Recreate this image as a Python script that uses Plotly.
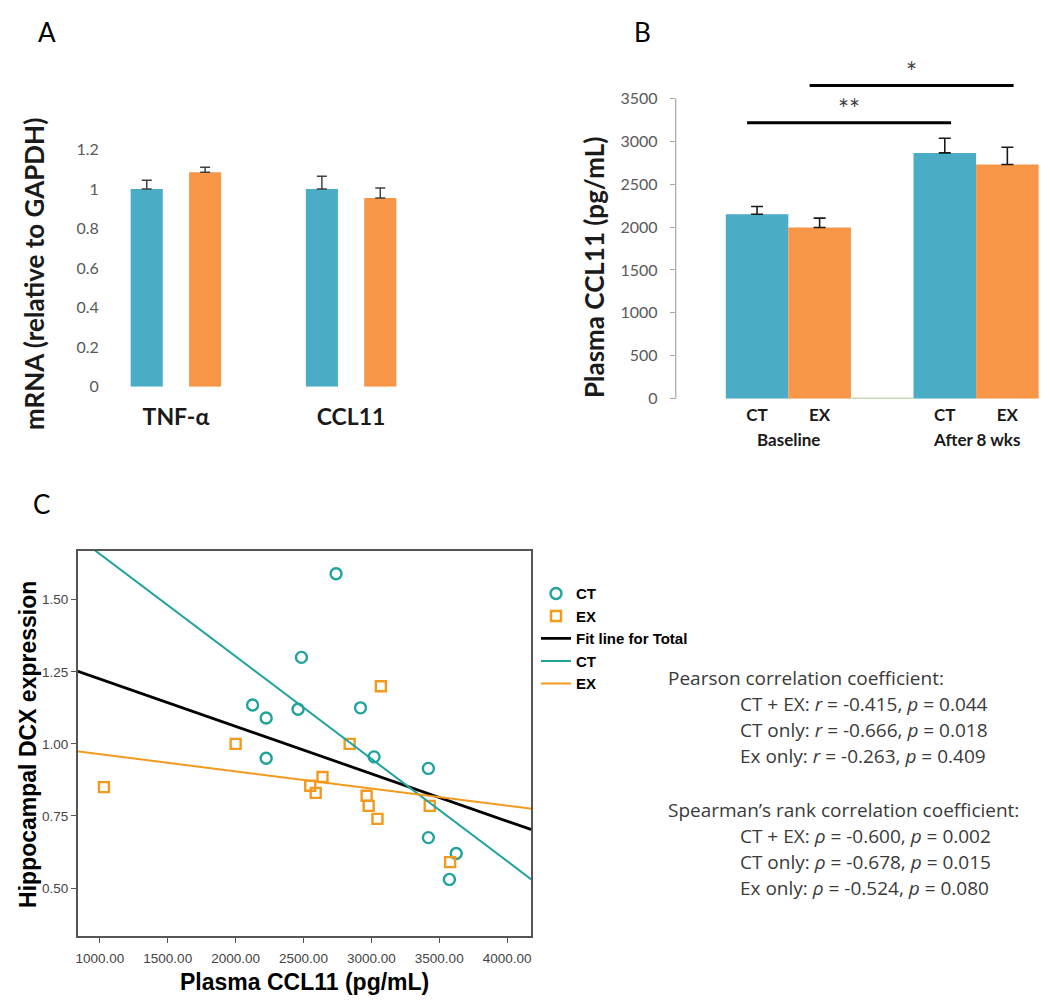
import numpy as np
import plotly.graph_objects as go

# ---------------- Panel A data ----------------
A_GENES = ["TNF-α", "CCL11"]
A_CT = [1.00, 1.00]
A_CT_ERR = [0.045, 0.065]
A_EX = [1.085, 0.955]
A_EX_ERR = [0.025, 0.05]
A_YTICKS = [0, 0.2, 0.4, 0.6, 0.8, 1, 1.2]

# ---------------- Panel B data ----------------
B_TIMES = ["Baseline", "After 8 wks"]
B_GROUPS = ["CT", "EX"]
B_CT = [2150, 2865]
B_CT_ERR = [90, 170]
B_EX = [1995, 2730]
B_EX_ERR = [110, 200]
B_YTICKS = [0, 500, 1000, 1500, 2000, 2500, 3000, 3500]
# (label, group compared Baseline vs After, bracket level)
B_SIG = [("**", "CT", 3215), ("*", "EX", 3650)]

# ---------------- Panel C data ----------------
CT_X = [2740, 2485, 2125, 2225, 2460, 2225, 2920, 3020, 3420, 3420, 3625, 3575]
CT_Y = [1.59, 1.30, 1.135, 1.09, 1.12, 0.95, 1.125, 0.955, 0.915, 0.675, 0.62, 0.53]
EX_X = [1030, 2000, 3070, 2840, 2640, 2550, 2590, 2965, 2980, 3045, 3430, 3580]
EX_Y = [0.85, 1.00, 1.20, 1.00, 0.885, 0.855, 0.83, 0.82, 0.785, 0.74, 0.785, 0.59]
C_XTICKS = [1000, 1500, 2000, 2500, 3000, 3500, 4000]
C_YTICKS = [0.50, 0.75, 1.00, 1.25, 1.50]

PEARSON = [("CT + EX", -0.415, 0.044), ("CT only", -0.666, 0.018), ("Ex only", -0.263, 0.409)]
SPEARMAN = [("CT + EX", -0.600, 0.002), ("CT only", -0.678, 0.015), ("Ex only", -0.524, 0.080)]

# ---------------- styles ----------------
BLUE = "#4bacc6"
ORANGE = "#f79646"
TEAL = "#1fa39c"
C_ORANGE = "#f39a1e"
W, H = 1050, 1001
CAL = "Lato"
ARIAL = "Liberation Sans, Arial"
TXT = "Open Sans"


def px(x):
    return x / W


def py(y):
    return 1 - y / H


fig = go.Figure()

# ---- Panel A bars ----
a_ct_pos = [3 * i for i in range(len(A_GENES))]
a_ex_pos = [3 * i + 1 for i in range(len(A_GENES))]
fig.add_trace(go.Bar(x=a_ct_pos, y=A_CT, width=0.55, marker_color=BLUE, marker_line_width=0,
                     error_y=dict(type="data", array=A_CT_ERR, arrayminus=[0] * len(A_CT),
                                  color="#404040", thickness=1.5, width=5),
                     showlegend=False, xaxis="x", yaxis="y"))
fig.add_trace(go.Bar(x=a_ex_pos, y=A_EX, width=0.55, marker_color=ORANGE, marker_line_width=0,
                     error_y=dict(type="data", array=A_EX_ERR, arrayminus=[0] * len(A_EX),
                                  color="#404040", thickness=1.5, width=5),
                     showlegend=False, xaxis="x", yaxis="y"))

# ---- Panel B bars ----
b_ct_pos = [3 * i for i in range(len(B_TIMES))]
b_ex_pos = [3 * i + 1 for i in range(len(B_TIMES))]
fig.add_trace(go.Bar(x=b_ct_pos, y=B_CT, width=1, marker_color=BLUE, marker_line_width=0,
                     error_y=dict(type="data", array=B_CT_ERR, arrayminus=[0] * len(B_CT),
                                  color="#1a1a1a", thickness=1.6, width=6),
                     showlegend=False, xaxis="x2", yaxis="y2"))
fig.add_trace(go.Bar(x=b_ex_pos, y=B_EX, width=1, marker_color=ORANGE, marker_line_width=0,
                     error_y=dict(type="data", array=B_EX_ERR, arrayminus=[0] * len(B_EX),
                                  color="#1a1a1a", thickness=1.6, width=6),
                     showlegend=False, xaxis="x2", yaxis="y2"))

# ---- Panel C scatter + fits ----
fig.add_trace(go.Scatter(x=CT_X, y=CT_Y, mode="markers", name="CT",
                         marker=dict(symbol="circle-open", size=11, color=TEAL, line=dict(width=2.4)),
                         xaxis="x3", yaxis="y3"))
fig.add_trace(go.Scatter(x=EX_X, y=EX_Y, mode="markers", name="EX",
                         marker=dict(symbol="square-open", size=10, color=C_ORANGE, line=dict(width=2.4)),
                         xaxis="x3", yaxis="y3"))

fit_x = np.array([500.0, 4500.0])
all_x = np.array(CT_X + EX_X, dtype=float)
all_y = np.array(CT_Y + EX_Y, dtype=float)
for name, xs, ys, col, lw in [("Fit line for Total", all_x, all_y, "black", 2.8),
                              ("CT", np.array(CT_X, float), np.array(CT_Y, float), TEAL, 2),
                              ("EX", np.array(EX_X, float), np.array(EX_Y, float), C_ORANGE, 2)]:
    k, b = np.polyfit(xs, ys, 1)
    fig.add_trace(go.Scatter(x=fit_x, y=k * fit_x + b, mode="lines", name=name,
                             line=dict(color=col, width=lw), xaxis="x3", yaxis="y3"))

# ---------------- axes ----------------
fig.update_layout(
    width=W, height=H, margin=dict(l=0, r=0, t=0, b=0),
    paper_bgcolor="white", plot_bgcolor="white", barmode="overlay",
    xaxis=dict(domain=[px(95), px(410)], range=[-0.718, 4.667], anchor="y",
               tickvals=[p + 0.5 for p in a_ct_pos], ticktext=A_GENES, ticks="",
               tickfont=dict(family=CAL, size=23, color="#1a1a1a", weight="bold"),
               ticklabelstandoff=14, showline=False, showgrid=False, zeroline=False),
    yaxis=dict(domain=[py(376), py(134)], range=[0, 1.2], anchor="x",
               tickvals=A_YTICKS, ticks="", tickfont=dict(family=CAL, size=16, color="#595959"),
               ticklabelstandoff=5, showline=False, showgrid=False, zeroline=False),
    xaxis2=dict(domain=[px(667), px(1040)], range=[-1.3, 4.65], anchor="y2",
                tickvals=b_ct_pos + b_ex_pos, ticktext=[B_GROUPS[0]] * 2 + [B_GROUPS[1]] * 2, ticks="",
                tickfont=dict(family=CAL, size=17, color="#1a1a1a", weight="bold"),
                ticklabelstandoff=4, showline=False, showgrid=False, zeroline=False),
    yaxis2=dict(domain=[py(388), py(47)], range=[0, 3900], anchor="x2",
                tickvals=B_YTICKS, ticks="outside", ticklen=5, tickcolor="#a6a6a6",
                tickfont=dict(family=CAL, size=16, color="#595959"), ticklabelstandoff=9,
                showline=False, showgrid=False, zeroline=False),
    xaxis3=dict(domain=[px(68), px(522)], range=[838, 4176], anchor="y3",
                tickvals=C_XTICKS, tickformat=".2f", ticks="outside", ticklen=5, tickcolor="#555",
                tickfont=dict(family=ARIAL, size=13.5, color="#444"), ticklabelstandoff=4,
                showline=True, mirror=True, linecolor="#555", linewidth=1.6,
                showgrid=False, zeroline=False),
    yaxis3=dict(domain=[py(936), py(543)], range=[0.333, 1.67], anchor="x3",
                tickvals=C_YTICKS, tickformat=".2f", ticks="outside", ticklen=5, tickcolor="#555",
                tickfont=dict(family=ARIAL, size=13.5, color="#444"),
                showline=True, mirror=True, linecolor="#555", linewidth=1.6,
                showgrid=False, zeroline=False),
    legend=dict(x=px(527), y=py(570), xanchor="left", yanchor="top",
                font=dict(family=ARIAL, size=15, color="black", weight="bold"),
                bgcolor="rgba(0,0,0,0)", itemwidth=30, tracegroupgap=0),
)

# ---------------- shapes ----------------
shapes = [
    dict(type="line", xref="x2 domain", yref="y2", x0=0, x1=0, y0=0, y1=B_YTICKS[-1],
         line=dict(color="#a6a6a6", width=1.2)),
    dict(type="line", xref="x2", yref="y2", x0=b_ex_pos[0] + 0.5, x1=b_ct_pos[1] - 0.5, y0=0, y1=0,
         line=dict(color="#b5c98e", width=2)),
]
grp_pos = {"CT": b_ct_pos, "EX": b_ex_pos}
sig_spans = []
for lab, grp, lvl in B_SIG:
    x0, x1 = grp_pos[grp][0] - 0.16, grp_pos[grp][1] + 0.1
    sig_spans.append((lab, x0, x1, lvl))
    shapes.append(dict(type="line", xref="x2", yref="y2", x0=x0, x1=x1,
                       y0=lvl, y1=lvl, line=dict(color="black", width=3)))
fig.update_layout(shapes=shapes)

# ---------------- annotations ----------------
ann = []
for lab, x, y in [("A", 37, 14), ("B", 634, 14), ("C", 32, 495)]:
    ann.append(dict(text=lab, x=px(x), y=py(y), xref="paper", yref="paper", showarrow=False,
                    xanchor="center", yanchor="middle", font=dict(family=CAL, size=26, color="black")))
# axis titles
ann.append(dict(text="mRNA (relative to GAPDH)", x=px(24), y=py(261), xref="paper", yref="paper",
                textangle=-90, showarrow=False, xanchor="center", yanchor="middle",
                font=dict(family=CAL, size=26, color="#1a1a1a", weight="bold")))
ann.append(dict(text="Plasma CCL11 (pg/mL)", x=px(585), y=py(254), xref="paper", yref="paper",
                textangle=-90, showarrow=False, xanchor="center", yanchor="middle",
                font=dict(family=CAL, size=26, color="#1a1a1a", weight="bold")))
ann.append(dict(text="Plasma CCL11 (pg/mL)", x=px(295), y=py(983), xref="paper", yref="paper",
                showarrow=False, xanchor="center", yanchor="middle",
                font=dict(family=ARIAL, size=23, color="black", weight="bold")))
ann.append(dict(text="Hippocampal DCX expression", x=px(18), y=py(740), xref="paper", yref="paper",
                textangle=-90, showarrow=False, xanchor="center", yanchor="middle",
                font=dict(family=ARIAL, size=23, color="black", weight="bold")))
# group labels for B
for i, t in enumerate(B_TIMES):
    ann.append(dict(text=t, x=b_ct_pos[i] + 0.5, y=py(430), xref="x2", yref="paper", showarrow=False,
                    xanchor="center", yanchor="middle",
                    font=dict(family=CAL, size=17, color="#1a1a1a", weight="bold")))
# significance stars
for lab, x0, x1, lvl in sig_spans:
    ann.append(dict(text=lab, x=(x0 + x1) / 2, y=lvl, xref="x2", yref="y2",
                    showarrow=False, xanchor="center", yanchor="bottom", yshift=-4,
                    font=dict(family=CAL, size=26, color="#404040")))
# correlation text
y0 = 673
ann.append(dict(text="Pearson correlation coefficient:", x=px(657), y=py(y0), xref="paper", yref="paper",
                showarrow=False, xanchor="left", yanchor="middle", font=dict(family=TXT, size=19, color="#3a3a3a")))
for k, (grp, r, p) in enumerate(PEARSON):
    ann.append(dict(text=f"{grp}: <i>r</i> = {r:.3f}, <i>p</i> = {p:.3f}", x=px(729), y=py(y0 + 26.5 * (k + 1)),
                    xref="paper", yref="paper", showarrow=False, xanchor="left", yanchor="middle",
                    font=dict(family=TXT, size=19, color="#3a3a3a")))
y1 = 807
ann.append(dict(text="Spearman’s rank correlation coefficient:", x=px(657), y=py(y1), xref="paper", yref="paper",
                showarrow=False, xanchor="left", yanchor="middle", font=dict(family=TXT, size=19, color="#3a3a3a")))
for k, (grp, r, p) in enumerate(SPEARMAN):
    ann.append(dict(text=f"{grp}: <i>ρ</i> = {r:.3f}, <i>p</i> = {p:.3f}", x=px(729), y=py(y1 + 26.5 * (k + 1)),
                    xref="paper", yref="paper", showarrow=False, xanchor="left", yanchor="middle",
                    font=dict(family=TXT, size=19, color="#3a3a3a")))
fig.update_layout(annotations=ann)

fig.write_html("out.html")
